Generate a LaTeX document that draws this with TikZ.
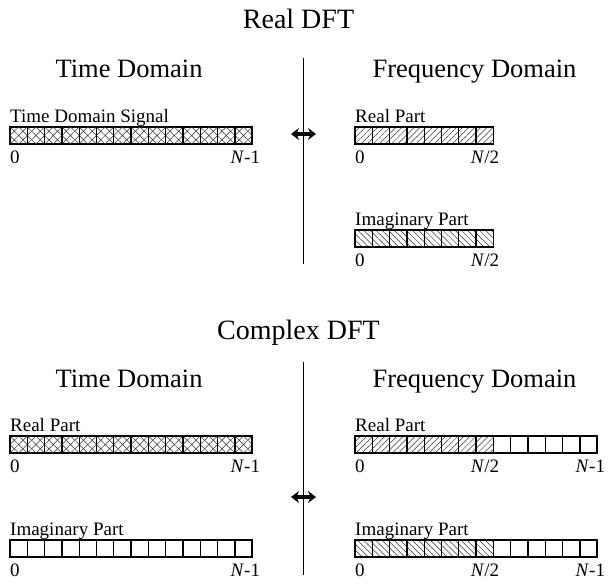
\documentclass[tikz,border=0pt]{standalone}
\usepackage{fontspec}
\setmainfont{Liberation Serif}
\usetikzlibrary{arrows.meta, calc, patterns.meta}

\begin{document}
\begin{tikzpicture}[x=1pt, y=1pt, >={Stealth[length=8pt, width=12pt]},
  every node/.style={font=\fontsize{19}{21}\selectfont, inner sep=0pt},
  bigtitle/.style={font=\fontsize{28}{32}\selectfont, anchor=base},
  domainhead/.style={font=\fontsize{26.5}{30}\selectfont, anchor=base},
  cellbar/.style={draw, line width=1.8pt, outer sep=0pt, minimum height=17pt, anchor=north west},
  cellline/.style={line width=1.3pt},
  hatchline/.style={line width=0.5pt, black!80},
  rehatch/.style={pattern={Lines[angle=45, distance=4.3pt, line width=0.5pt]}, pattern color=black!80},
  imhatch/.style={pattern={Lines[angle=-45, distance=4.3pt, line width=0.5pt]}, pattern color=black!80},
  dftarrow/.style={<->, line width=3.2pt},
  splitline/.style={line width=0.9pt}]
  \useasboundingbox (0,0) rectangle (609,-584);

  % ---- real DFT ----
  \node[bigtitle] (realtitle) at (298.5,-28) {Real DFT};
  \node[domainhead] (rtime) at (129,-77) {Time Domain};
  \node[domainhead] (rfreq) at (474.5,-77) {Frequency Domain};
  \coordinate (rsplittop) at (303,-58);
  \coordinate (rsplitbot) at (303,-264);
  \draw[splitline] (rsplittop) -- (rsplitbot);
  \coordinate (rarrowl) at (291,-134);
  \coordinate (rarrowr) at (316,-134);
  \draw[dftarrow] (rarrowl) -- (rarrowr);

  \node[cellbar, minimum width=242.2] (tdsig) at (10,-127) {};
  \foreach \i in {0,...,13} {
    \draw[hatchline] ($(tdsig.north west)+(\i*17.3,0)$) -- ++(17.3,-17) ++(-17.3,0) -- ++(17.3,17);
    \draw[hatchline] ($(tdsig.north west)+(\i*17.3+8.65,0)$) -- ++(8.65,-8.5) -- ++(-8.65,-8.5) -- ++(-8.65,8.5) -- cycle;
  }
  \foreach \i in {1,...,13}
    \draw[cellline] ($(tdsig.north west)+(\i*17.3,0)$) -- ($(tdsig.south west)+(\i*17.3,0)$);
  \node[anchor=base west] (tdsiglab) at ($(tdsig.north west)+(0,5)$) {Time Domain Signal};
  \node[anchor=north west] (tdsigzero) at ($(tdsig.south west)+(0,-7)$) {0};
  \node[anchor=north east] (tdsigend) at ($(tdsig.south east)+(8,-7)$) {\textit{N}-1};

  \node[cellbar, rehatch, minimum width=138.4] (rfre) at (355,-127) {};
  \foreach \i in {1,...,7}
    \draw[cellline] ($(rfre.north west)+(\i*17.3,0)$) -- ($(rfre.south west)+(\i*17.3,0)$);
  \node[anchor=base west] (rfrelab) at ($(rfre.north west)+(0,5)$) {Real Part};
  \node[anchor=north west] (rfrezero) at ($(rfre.south west)+(0,-7)$) {0};
  \node[anchor=north east] (rfreend) at ($(rfre.south east)+(6,-7)$) {\textit{N}/2};

  \node[cellbar, imhatch, minimum width=138.4] (rfim) at (355,-230) {};
  \foreach \i in {1,...,7}
    \draw[cellline] ($(rfim.north west)+(\i*17.3,0)$) -- ($(rfim.south west)+(\i*17.3,0)$);
  \node[anchor=base west] (rfimlab) at ($(rfim.north west)+(0,5)$) {Imaginary Part};
  \node[anchor=north west] (rfimzero) at ($(rfim.south west)+(0,-7)$) {0};
  \node[anchor=north east] (rfimend) at ($(rfim.south east)+(6,-7)$) {\textit{N}/2};

  % ---- complex DFT ----
  \node[bigtitle] (cxtitle) at (298.5,-339) {Complex DFT};
  \node[domainhead] (ctime) at (129,-387) {Time Domain};
  \node[domainhead] (cfreq) at (474.5,-387) {Frequency Domain};
  \coordinate (csplittop) at (303,-362);
  \coordinate (csplitbot) at (303,-575);
  \draw[splitline] (csplittop) -- (csplitbot);
  \coordinate (carrowl) at (291,-497);
  \coordinate (carrowr) at (316,-497);
  \draw[dftarrow] (carrowl) -- (carrowr);

  \node[cellbar, minimum width=242.2] (ctre) at (10,-436) {};
  \foreach \i in {0,...,13} {
    \draw[hatchline] ($(ctre.north west)+(\i*17.3,0)$) -- ++(17.3,-17) ++(-17.3,0) -- ++(17.3,17);
    \draw[hatchline] ($(ctre.north west)+(\i*17.3+8.65,0)$) -- ++(8.65,-8.5) -- ++(-8.65,-8.5) -- ++(-8.65,8.5) -- cycle;
  }
  \foreach \i in {1,...,13}
    \draw[cellline] ($(ctre.north west)+(\i*17.3,0)$) -- ($(ctre.south west)+(\i*17.3,0)$);
  \node[anchor=base west] (ctrelab) at ($(ctre.north west)+(0,5)$) {Real Part};
  \node[anchor=north west] (ctrezero) at ($(ctre.south west)+(0,-7)$) {0};
  \node[anchor=north east] (ctreend) at ($(ctre.south east)+(8,-7)$) {\textit{N}-1};

  \node[cellbar, minimum width=242.2] (ctim) at (10,-540) {};
  \foreach \i in {1,...,13}
    \draw[cellline] ($(ctim.north west)+(\i*17.3,0)$) -- ($(ctim.south west)+(\i*17.3,0)$);
  \node[anchor=base west] (ctimlab) at ($(ctim.north west)+(0,5)$) {Imaginary Part};
  \node[anchor=north west] (ctimzero) at ($(ctim.south west)+(0,-7)$) {0};
  \node[anchor=north east] (ctimend) at ($(ctim.south east)+(8,-7)$) {\textit{N}-1};

  \node[cellbar, rehatch, minimum width=138.4] (cfre) at (355,-436) {};
  \node[cellbar, minimum width=103.8] (cfrerest) at (cfre.north east) {};
  \foreach \i in {1,...,13}
    \draw[cellline] ($(cfre.north west)+(\i*17.3,0)$) -- ($(cfre.south west)+(\i*17.3,0)$);
  \node[anchor=base west] (cfrelab) at ($(cfre.north west)+(0,5)$) {Real Part};
  \node[anchor=north west] (cfrezero) at ($(cfre.south west)+(0,-7)$) {0};
  \node[anchor=north east] (cfremid) at ($(cfre.south east)+(6,-7)$) {\textit{N}/2};
  \node[anchor=north east] (cfreend) at ($(cfrerest.south east)+(8,-7)$) {\textit{N}-1};

  \node[cellbar, imhatch, minimum width=138.4] (cfim) at (355,-540) {};
  \node[cellbar, minimum width=103.8] (cfimrest) at (cfim.north east) {};
  \foreach \i in {1,...,13}
    \draw[cellline] ($(cfim.north west)+(\i*17.3,0)$) -- ($(cfim.south west)+(\i*17.3,0)$);
  \node[anchor=base west] (cfimlab) at ($(cfim.north west)+(0,5)$) {Imaginary Part};
  \node[anchor=north west] (cfimzero) at ($(cfim.south west)+(0,-7)$) {0};
  \node[anchor=north east] (cfimmid) at ($(cfim.south east)+(6,-7)$) {\textit{N}/2};
  \node[anchor=north east] (cfimend) at ($(cfimrest.south east)+(8,-7)$) {\textit{N}-1};
\end{tikzpicture}
\end{document}
